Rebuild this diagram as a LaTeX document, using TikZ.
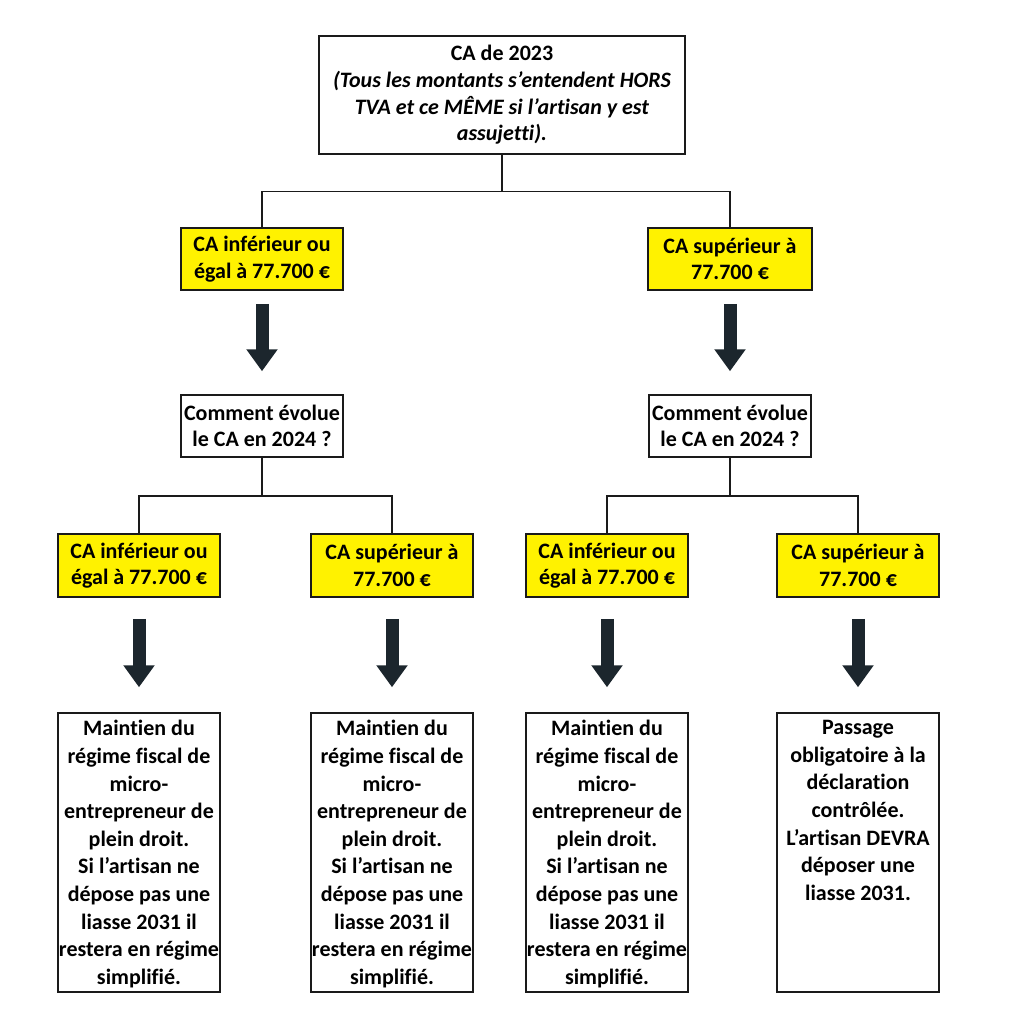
\documentclass[tikz,border=0pt]{standalone}
\usepackage{fontspec}
\setmainfont{Carlito}[Ligatures=NoCommon]
\usepackage{tikz}
\usetikzlibrary{arrows.meta}
\definecolor{boxline}{HTML}{1A1A1A}
\definecolor{gold}{HTML}{FFF200}
\definecolor{slate}{HTML}{1C262D}
\tikzset{
  plainbox/.style={draw=boxline, line width=1.5pt, fill=white, inner sep=0pt, align=center,
    font=\fontsize{22}{26.7}\selectfont\bfseries},
  yellowbox/.style={plainbox, fill=gold, minimum width=162pt, minimum height=62pt},
  askbox/.style={plainbox, minimum width=162pt, minimum height=62pt},
  link/.style={draw=boxline, line width=1.5pt},
  bigarrow/.style={draw=slate, line width=13pt, -{Triangle[width=30pt,length=22pt]}},
}
\newcommand{\tallnote}[1]{\begin{minipage}[c][279pt][t]{162pt}\centering
  \fontsize{22}{27.6}\selectfont\bfseries\vspace*{7.5pt}#1\end{minipage}}

\begin{document}
\begin{tikzpicture}[x=1pt,y=-1pt]
\useasboundingbox (0,0) rectangle (1011,1024);

% level 1
\node[plainbox, minimum width=366pt, minimum height=118pt] (ca23) at (502,95)
  {CA de 2023\\\textit{(Tous les montants s’entendent HORS}\\\textit{TVA et ce MÊME si l’artisan y est}\\\textit{assujetti).}};
\node[yellowbox] (infA) at (262,259) {CA inférieur ou\\égal à 77.700 €};
\node[yellowbox, minimum width=164pt] (supA) at (730,259) {CA supérieur à\\77.700 €};
\draw[link] (ca23.south) -- ++(0,37) coordinate (forkA);
\draw[link] (infA.north) |- (forkA) -| (supA.north);

% level 2
\node[askbox] (askL) at (262,426) {Comment évolue\\le CA en 2024 ?};
\node[askbox] (askR) at (730,426) {Comment évolue\\le CA en 2024 ?};
\draw[bigarrow, shorten <=13pt, shorten >=23pt] (infA.south) -- (askL.north);
\draw[bigarrow, shorten <=13pt, shorten >=23pt] (supA.south) -- (askR.north);

\node[yellowbox, minimum height=63pt] (infLL) at (139,565.5) {CA inférieur ou\\égal à 77.700 €};
\node[yellowbox, minimum height=63pt] (supLR) at (392,565.5) {CA supérieur à\\77.700 €};
\node[yellowbox, minimum height=63pt] (infRL) at (607,565.5) {CA inférieur ou\\égal à 77.700 €};
\node[yellowbox, minimum height=63pt] (supRR) at (858,565.5) {CA supérieur à\\77.700 €};
\draw[link] (askL.south) -- ++(0,38) coordinate (forkL);
\draw[link] (infLL.north) |- (forkL) -| (supLR.north);
\draw[link] (askR.south) -- ++(0,38) coordinate (forkR);
\draw[link] (infRL.north) |- (forkR) -| (supRR.north);

% level 3
\node[plainbox] (endLL) at (139,852.5) {\tallnote{Maintien du\\régime fiscal de\\micro-\\entrepreneur de\\plein droit.\\Si l’artisan ne\\dépose pas une\\liasse 2031 il\\restera en régime\\simplifié.}};
\node[plainbox] (endLR) at (392,852.5) {\tallnote{Maintien du\\régime fiscal de\\micro-\\entrepreneur de\\plein droit.\\Si l’artisan ne\\dépose pas une\\liasse 2031 il\\restera en régime\\simplifié.}};
\node[plainbox] (endRL) at (607,852.5) {\tallnote{Maintien du\\régime fiscal de\\micro-\\entrepreneur de\\plein droit.\\Si l’artisan ne\\dépose pas une\\liasse 2031 il\\restera en régime\\simplifié.}};
\node[plainbox] (endRR) at (858,852.5) {\tallnote{Passage\\obligatoire à la\\déclaration\\contrôlée.\\L’artisan DEVRA\\déposer une\\liasse 2031.}};
\draw[bigarrow, shorten <=21pt, shorten >=25pt] (infLL.south) -- (endLL.north);
\draw[bigarrow, shorten <=21pt, shorten >=25pt] (supLR.south) -- (endLR.north);
\draw[bigarrow, shorten <=21pt, shorten >=25pt] (infRL.south) -- (endRL.north);
\draw[bigarrow, shorten <=21pt, shorten >=25pt] (supRR.south) -- (endRR.north);
\end{tikzpicture}
\end{document}
